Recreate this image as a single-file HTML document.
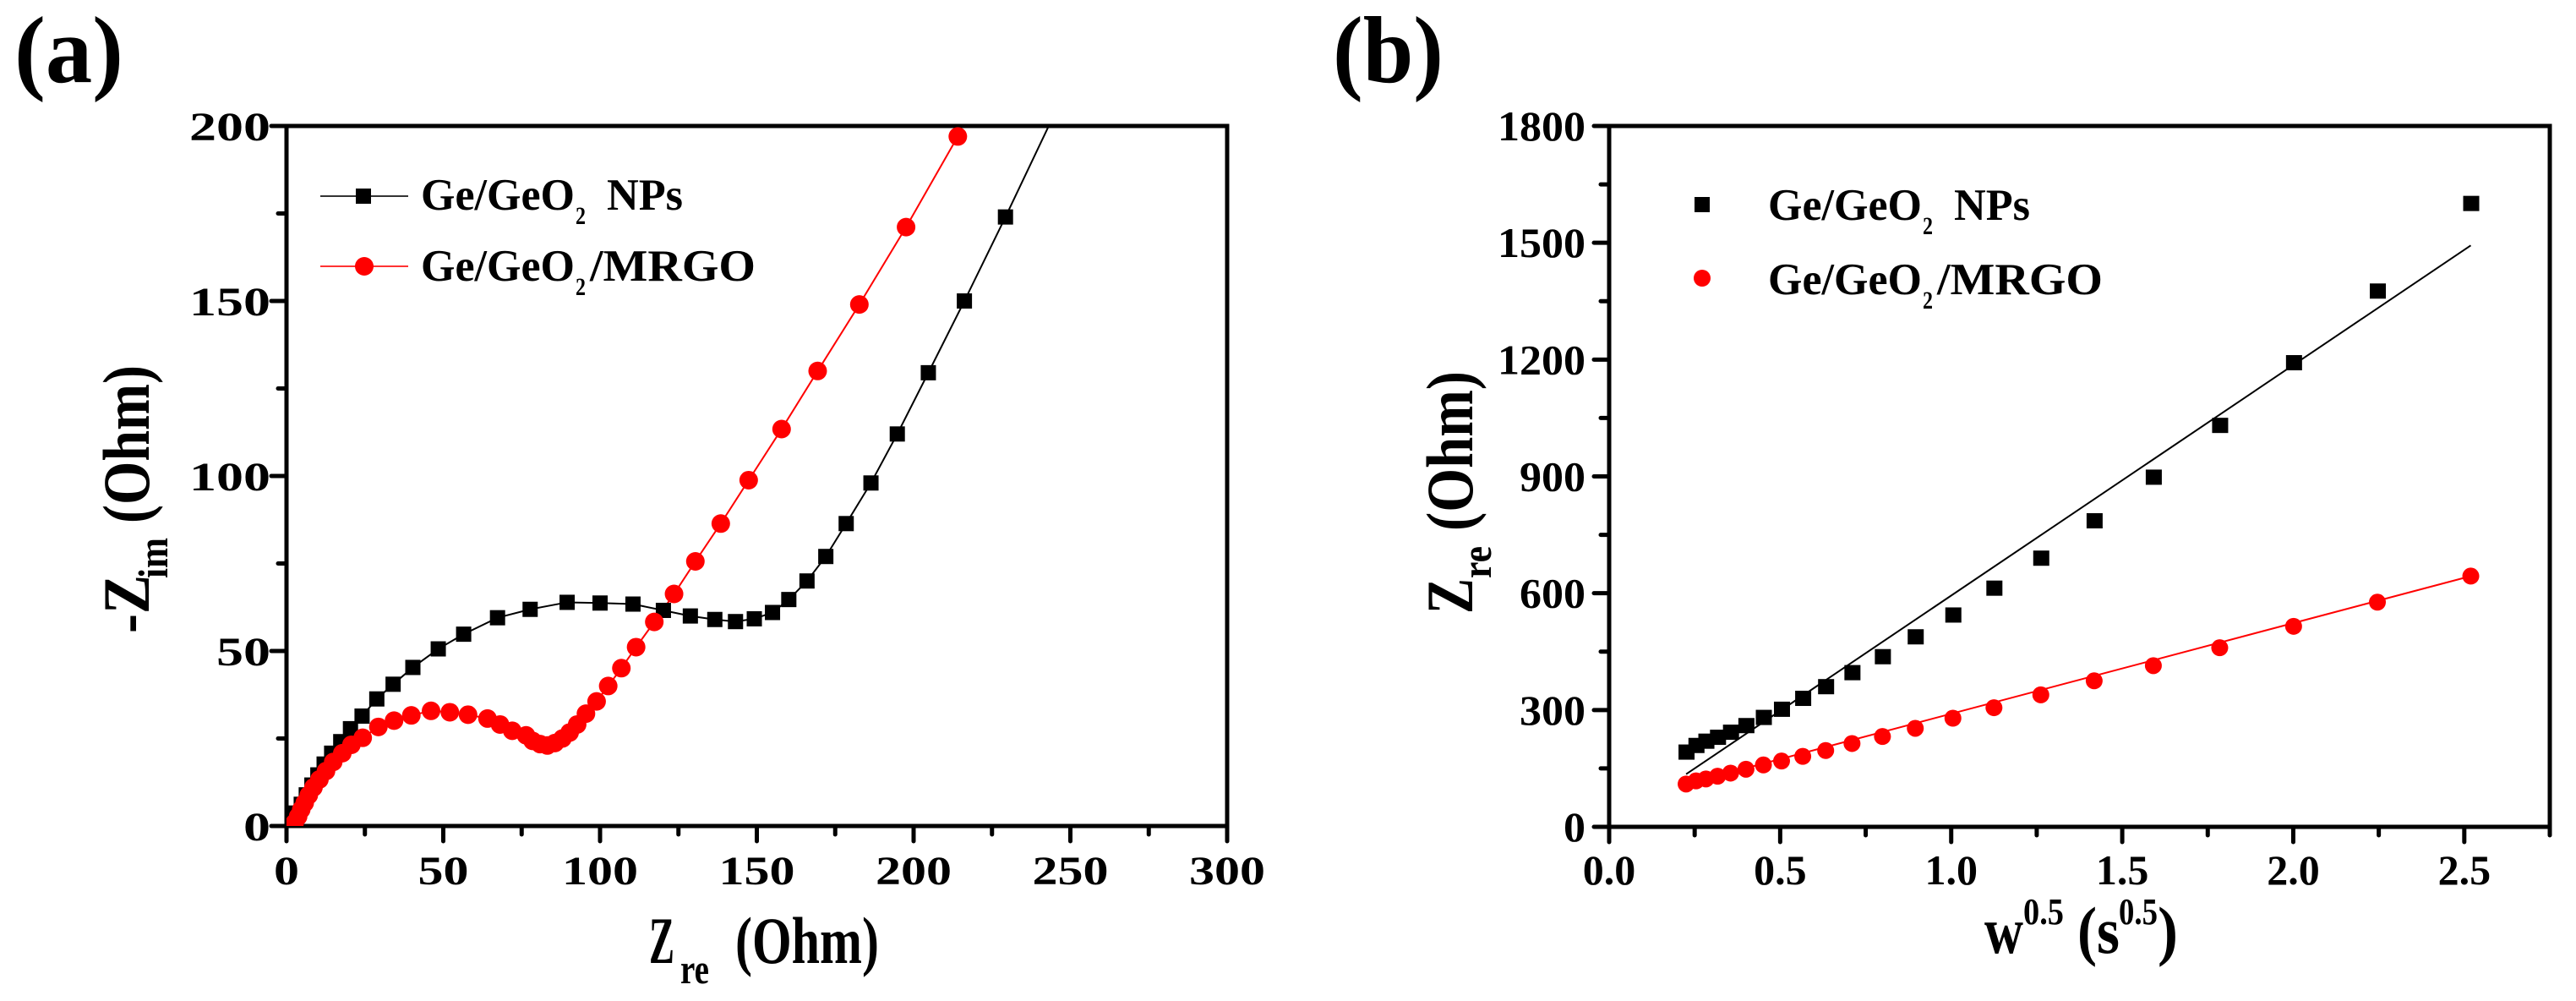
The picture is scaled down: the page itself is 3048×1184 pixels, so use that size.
<!DOCTYPE html>
<html><head><meta charset="utf-8">
<style>
html,body{margin:0;padding:0;background:#fff;}
svg{display:block;}
text{font-family:"Liberation Serif","Times New Roman","DejaVu Serif",serif;font-weight:bold;fill:#000;}
</style></head>
<body>
<svg id="fig" width="3048" height="1184" viewBox="0 0 3048 1184" xmlns="http://www.w3.org/2000/svg">
<defs>
<clipPath id="clipA"><rect x="339" y="149" width="1113" height="828"/></clipPath>
<clipPath id="clipB"><rect x="1904" y="149" width="1113" height="829"/></clipPath>
</defs>
<g id="panelA"></g>
<g id="panelB"></g>
</svg>
<script>
// ---------- Panel (a) data: Nyquist plot ----------
const aBlackX = [1.6,3.1,4.7,6.3,8.1,10,12,14.4,17.3,20.4,24.1,28.8,34,40.3,48.4,56.5,67.3,77.7,89.5,100,110.5,120.2,128.8,136.6,143.2,149.2,155,160.2,166,172,178.5,186.4,194.8,204.7,216.2,229.3,250];
const aBlackY = [1.6,3.7,6.2,8.9,11.7,14.6,17.7,20.8,24.1,27.8,31.4,36.3,40.5,45.3,50.6,54.8,59.5,61.9,63.9,63.7,63.4,61.6,60,59,58.4,59.2,61,64.7,70,77,86.4,98,112,129.5,150,174,213];
const aBlackShown = 36; // last point is off-chart (line only)
const aRedX = [2.6,3.7,4.7,5.8,7.1,8.6,10.5,12.6,14.9,17.8,20.7,24.3,29.3,34.3,39.8,46.1,52.1,57.9,64.1,68.1,72,76.4,78.5,80.9,83.2,85.6,88,90.3,92.7,95.5,98.9,102.6,106.8,111.5,117.3,123.6,130.4,138.5,147.4,157.9,169.4,182.7,197.6,214.1];
const aRedY = [0.9,2.7,4.7,6.6,8.8,11,13.3,15.7,18.3,20.8,23.2,25.2,28.3,30.1,31.6,32.9,32.5,31.8,30.7,29,27.2,25.9,24.3,23.4,23,23.7,25,26.7,29,32.1,35.6,40,45.1,51.1,58.3,66.3,75.6,86.4,98.8,113.4,130,149,171.1,197];
const aXTicks = [0,50,100,150,200,250,300];
const aYTicks = [0,50,100,150,200];
const aXMinor = [25,75,125,175,225,275];
const aYMinor = [25,75,125,175];

// ---------- Panel (b) data: Warburg plot ----------
const bX = [0.225,0.254,0.283,0.317,0.355,0.4,0.451,0.504,0.566,0.633,0.71,0.799,0.895,1.005,1.125,1.262,1.418,1.591,1.785,2.001,2.246,2.519];
const bBlackY = [192,209,220,230,243,260,281,302,330,360,396,437,488,544,613,690,786,898,1031,1192,1376,1601];
const bRedY = [110,118,123,130,138,148,159,169,181,196,214,232,253,279,306,339,375,414,460,515,577,644];
const bFitSlope = [592,232.8];
const bFitIntercept = [2,57.6];
const bXTicks = [0,0.5,1,1.5,2,2.5];
const bXTickLabels = ["0.0","0.5","1.0","1.5","2.0","2.5"];
const bYTicks = [0,300,600,900,1200,1500,1800];
const bXMinor = [0.25,0.75,1.25,1.75,2.25,2.75];
const bYMinor = [150,450,750,1050,1350,1650];

const NS = "http://www.w3.org/2000/svg";
const FONT = '"Liberation Serif", "Times New Roman", "DejaVu Serif", serif';
function mk(parent, tag, attrs){
  const e = document.createElementNS(NS, tag);
  for (const k in attrs) e.setAttribute(k, attrs[k]);
  if (tag === 'text') { e.setAttribute('font-family', FONT); e.setAttribute('font-weight','bold'); }
  parent.appendChild(e);
  return e;
}

const axA = {x0:339,x1:1452,y0:977,y1:149,xmin:0,xmax:300,ymin:0,ymax:200};
const axB = {x0:1904,x1:3017,y0:978,y1:149,xmin:0,xmax:2.75,ymin:0,ymax:1800};
function sx(ax,v){return ax.x0+(v-ax.xmin)/(ax.xmax-ax.xmin)*(ax.x1-ax.x0);}
function sy(ax,v){return ax.y0-(v-ax.ymin)/(ax.ymax-ax.ymin)*(ax.y0-ax.y1);}

function drawFrame(g, ax, xt, yt, xm, ym, xlab, ylabX, ylabLen, xFont, xLenPerChar, yFont){
  const fr = mk(g,'rect',{x:ax.x0,y:ax.y1,width:ax.x1-ax.x0,height:ax.y0-ax.y1,fill:'none',stroke:'#000','stroke-width':5});
  
  
  xt.forEach((v,i)=>{
    const x = sx(ax,v);
    const t = mk(g,'line',{x1:x,x2:x,y1:ax.y0,y2:ax.y0+18,stroke:'#000','stroke-width':5,'stroke-linecap':'round'});
    
    
    const s = xlab ? xlab[i] : String(v);
    const a = {x:x,y:1046,'font-size':xFont,'text-anchor':'middle'};
    if (xLenPerChar) { a.textLength = s.length*xLenPerChar; a.lengthAdjust='spacingAndGlyphs'; }
    const tx = mk(g,'text',a); tx.textContent = s;
    
    
  });
  xm.forEach(v=>{
    const x = sx(ax,v);
    const t = mk(g,'line',{x1:x,x2:x,y1:ax.y0,y2:ax.y0+10,stroke:'#000','stroke-width':5,'stroke-linecap':'round'});
    
    
  });
  yt.forEach(v=>{
    const y = sy(ax,v);
    const t = mk(g,'line',{x1:ax.x0-18,x2:ax.x0,y1:y,y2:y,stroke:'#000','stroke-width':5,'stroke-linecap':'round'});
    
    
    const s = String(v);
    const tx = mk(g,'text',{x:ylabX,y:y+17,'font-size':yFont,'text-anchor':'end',textLength:s.length*ylabLen,lengthAdjust:'spacingAndGlyphs'});
    tx.textContent = s;
    
    
  });
  ym.forEach(v=>{
    const y = sy(ax,v);
    const t = mk(g,'line',{x1:ax.x0-10,x2:ax.x0,y1:y,y2:y,stroke:'#000','stroke-width':5,'stroke-linecap':'round'});
    
    
  });
}

function txt(g, s, x, y, size, len, name, rot){
  const a = {'font-size':size};
  if (len) { a.textLength=len; a.lengthAdjust='spacingAndGlyphs'; }
  if (rot) { a.transform='translate('+x+','+y+') rotate(-90)'; a.x=0; a.y=0; }
  else { a.x=x; a.y=y; }
  const t = mk(g,'text',a); t.textContent = s;
  
  
  return t;
}

// ===== Panel A =====
const gA = document.getElementById('panelA');
drawFrame(gA, axA, aXTicks, aYTicks, aXMinor, aYMinor, null, 320, 32, 48, 30, 48);
txt(gA,'(a)',17,97,112,129,'panel-label-a');
txt(gA,'Z',768,1139,78,30,'x-axis-title-a');
txt(gA,'re',805,1163,50,34,'x-axis-title-a-subscript');
txt(gA,'(Ohm)',870,1139,78,170,'x-axis-title-a-unit');
txt(gA,'-Z',176,749,78,69,'y-axis-title-a',true);
txt(gA,'im',198,684,50,48,'y-axis-title-a-subscript',true);
txt(gA,'(Ohm)',176,619,78,187,'y-axis-title-a-unit',true);

const dA = mk(gA,'g',{'clip-path':'url(#clipA)'});


let pb = aBlackX.map((v,i)=>sx(axA,v)+','+sy(axA,aBlackY[i])).join(' ');
const lb = mk(dA,'polyline',{points:pb,fill:'none',stroke:'#000','stroke-width':2});


let pr = aRedX.map((v,i)=>sx(axA,v)+','+sy(axA,aRedY[i])).join(' ');
const lr = mk(dA,'polyline',{points:pr,fill:'none',stroke:'#f00','stroke-width':2});


for (let i=0;i<aBlackShown;i++){
  const m = mk(dA,'rect',{x:sx(axA,aBlackX[i])-9,y:sy(axA,aBlackY[i])-9,width:18,height:18,fill:'#000'});
  
  
}
aRedX.forEach((v,i)=>{
  const m = mk(dA,'circle',{cx:sx(axA,v),cy:sy(axA,aRedY[i]),r:11,fill:'#f00'});
  
  
});
const legA = mk(gA,'g',{});


mk(legA,'line',{x1:379,x2:483,y1:232,y2:232,stroke:'#333','stroke-width':2});
mk(legA,'rect',{x:421,y:223,width:18,height:18,fill:'#000'});
mk(legA,'line',{x1:379,x2:483,y1:315,y2:315,stroke:'#f33','stroke-width':2});
mk(legA,'circle',{cx:431,cy:315,r:11,fill:'#f00'});
txt(legA,'Ge/GeO',498,248,53,182,'legend-entry-ge-geo2-nps');
txt(legA,'2',681,265,30,12,'legend-subscript');
txt(legA,'NPs',718,248,53,90,'legend-entry-nps');
txt(legA,'Ge/GeO',498,332,53,182,'legend-entry-ge-geo2-mrgo');
txt(legA,'2',681,349,30,12,'legend-subscript');
txt(legA,'/MRGO',698,332,53,196,'legend-entry-mrgo');

// ===== Panel B =====
const gB = document.getElementById('panelB');
drawFrame(gB, axB, bXTicks, bYTicks, bXMinor, bYMinor, bXTickLabels, 1876, 26, 50, 0, 50);
txt(gB,'(b)',1577,97,112,131,'panel-label-b');
txt(gB,'Z',1742,726,78,42,'y-axis-title-b',true);
txt(gB,'re',1764,684,50,38,'y-axis-title-b-subscript',true);
txt(gB,'(Ohm)',1742,628,78,189,'y-axis-title-b-unit',true);
txt(gB,'w',2348,1127,78,46,'x-axis-title-b');
txt(gB,'0.5',2394,1093,44,48,'x-axis-title-b-sup');
txt(gB,'(s',2458,1127,78,50,'x-axis-title-b-unit');
txt(gB,'0.5',2507,1093,44,46,'x-axis-title-b-sup2');
txt(gB,')',2553,1127,78,24,'x-axis-title-b-paren');

const dB = mk(gB,'g',{'clip-path':'url(#clipB)'});


const xF0 = bX[0], xF1 = bX[bX.length-1];
[0,1].forEach(k=>{
  const l = mk(dB,'line',{x1:sx(axB,xF0),y1:sy(axB,bFitIntercept[k]+bFitSlope[k]*xF0),x2:sx(axB,xF1),y2:sy(axB,bFitIntercept[k]+bFitSlope[k]*xF1),stroke:k?'#f00':'#000','stroke-width':2});
  
  
});
bX.forEach((v,i)=>{
  const m = mk(dB,'rect',{x:sx(axB,v)-9,y:sy(axB,bBlackY[i])-9,width:19,height:18,fill:'#000'});
  
  
});
bX.forEach((v,i)=>{
  const m = mk(dB,'circle',{cx:sx(axB,v),cy:sy(axB,bRedY[i]),r:10,fill:'#f00'});
  
  
});
const legB = mk(gB,'g',{});


mk(legB,'rect',{x:2005,y:233,width:18,height:18,fill:'#000'});
mk(legB,'circle',{cx:2014,cy:329,r:10,fill:'#f00'});
txt(legB,'Ge/GeO',2092,260,53,182,'legend-entry-ge-geo2-nps');
txt(legB,'2',2275,277,30,12,'legend-subscript');
txt(legB,'NPs',2312,260,53,90,'legend-entry-nps');
txt(legB,'Ge/GeO',2092,348,53,182,'legend-entry-ge-geo2-mrgo');
txt(legB,'2',2275,365,30,12,'legend-subscript');
txt(legB,'/MRGO',2292,348,53,196,'legend-entry-mrgo');
</script>
</body></html>
